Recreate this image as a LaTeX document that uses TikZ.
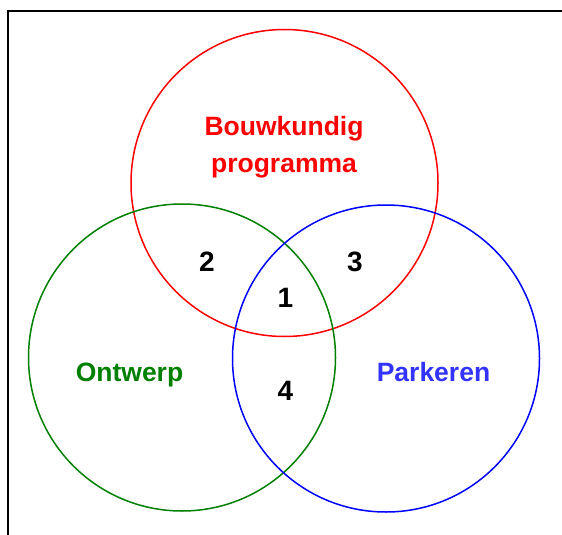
\documentclass[tikz,border=0pt]{standalone}
\usepackage{fontspec}
\setmainfont{Liberation Sans}
\definecolor{vred}{RGB}{255,0,0}
\definecolor{vgreen}{RGB}{0,128,0}
\definecolor{vblue}{RGB}{0,0,255}
\definecolor{lblue}{RGB}{51,51,255}
\begin{document}
\begin{tikzpicture}[x=1pt,y=-1pt,
  ring/.style={circle,draw,line width=1.5pt,minimum size=307pt,inner sep=0pt},
  lbl/.style={font=\fontsize{26.5}{37}\selectfont\bfseries,inner sep=0pt,align=center},
  num/.style={font=\fontsize{28}{34}\selectfont\bfseries,inner sep=0pt,text=black,anchor=base}]
\useasboundingbox (0,0) rectangle (562,535);
\fill[white] (0,0) rectangle (562,535);
\coordinate (f1) at (562,11);
\coordinate (f2) at (8,11);
\coordinate (f3) at (8,535);
\draw[line width=1.6pt] (f1) -- (f2) -- (f3);
\node[ring,draw=vred] (bouw) at (284.5,183) {};
\node[ring,draw=vgreen] (ontw) at (182,357.5) {};
\node[ring,draw=vblue] (park) at (386,358.5) {};
\node[lbl,text=vred] (tb) at (284,147.5) {Bouwkundig\\programma};
\node[lbl,text=vgreen,anchor=base] (to) at (129.5,381.5) {Ontwerp};
\node[lbl,text=lblue,anchor=base] (tp) at (433.5,381.5) {Parkeren};
\node[num] (n2) at (207,271) {2};
\node[num] (n3) at (355,271) {3};
\node[num] (n1) at (285.5,307) {1};
\node[num] (n4) at (285.5,400) {4};
\end{tikzpicture}
\end{document}
